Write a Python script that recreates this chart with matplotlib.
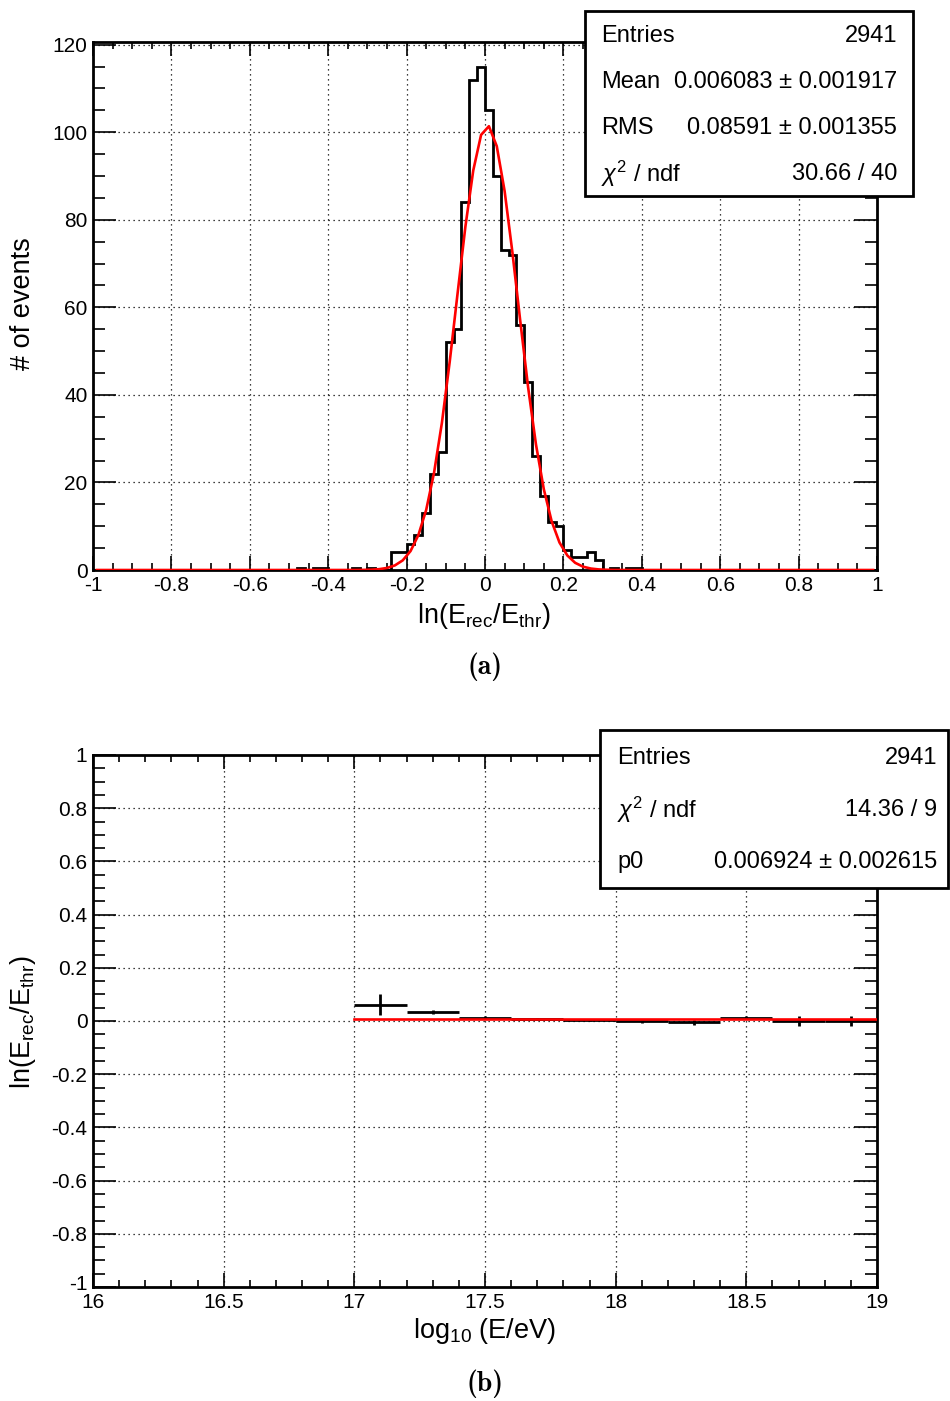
import os
import numpy as np
import matplotlib
matplotlib.use("Agg")
import matplotlib.pyplot as plt
import matplotlib.transforms as mtransforms
from matplotlib.ticker import MultipleLocator, FuncFormatter
from matplotlib.patches import Rectangle
from matplotlib.font_manager import FontProperties

# ---------------- data ----------------
# histogram (a): 100 bins of width 0.02 from -1 to 1
hist_lo, hist_hi, n_bins = -1.0, 1.0, 100
counts = [0] * 26 + [0.5, 0, 0.5, 0.5, 0, 0, 0, 0.5, 0, 0.5, 0, 0,
                     4, 4, 6, 8, 13, 22, 27, 52, 55, 84, 112, 115,
                     105, 90, 73, 72, 56, 43, 26, 17, 11, 10, 4.5, 3,
                     3, 4.2, 2.3, 0, 0.5, 0, 0.5, 0.5] + [0] * 30

# gaussian fit parameters (a)
gaus_const, gaus_mean, gaus_sigma = 101.5, 0.006, 0.078

# profile (b)
prof_centers = [17.1, 17.3, 17.5, 17.7, 17.9, 18.1, 18.3, 18.5, 18.7, 18.9]
prof_means = [0.061, 0.034, 0.013, 0.008, 0.003, -0.001, -0.005, 0.012, 0.001, 0.0]
prof_errs = [0.039, 0.009, 0.004, 0.004, 0.004, 0.005, 0.009, 0.005, 0.018, 0.019]
prof_halfwidth = 0.1
fit_p0 = 0.006924
fit_range = [17.0, 19.0]

stats_a = [("Entries", "2941"),
           ("Mean", "0.006083 \u00b1 0.001917"),
           ("RMS", "0.08591 \u00b1 0.001355"),
           (r"$\chi^{2}$ / ndf", "30.66 / 40")]
stats_b = [("Entries", "2941"),
           (r"$\chi^{2}$ / ndf", "14.36 / 9"),
           ("p0", "0.006924 \u00b1 0.002615")]

# ---------------- style ----------------
plt.rcParams["font.family"] = ["Liberation Sans", "DejaVu Sans"]
plt.rcParams["mathtext.fontset"] = "custom"
plt.rcParams["mathtext.rm"] = "Liberation Sans"
plt.rcParams["mathtext.it"] = "Liberation Sans:italic"
plt.rcParams["mathtext.bf"] = "Liberation Sans:bold"
plt.rcParams["axes.unicode_minus"] = False

W, H = 950, 1401
fig = plt.figure(figsize=(W / 100, H / 100), dpi=100)


def fx(x):
    return x / W


def fy(y):
    return 1 - y / H


ax1 = fig.add_axes([fx(93), fy(570), fx(877) - fx(93), fy(42) - fy(570)])
ax2 = fig.add_axes([fx(93), fy(1287), fx(877) - fx(93), fy(755) - fy(1287)])

fmt = FuncFormatter(lambda v, p: ("%g" % round(v, 6)))

for ax in (ax1, ax2):
    for s in ax.spines.values():
        s.set_linewidth(2.0)
    ax.tick_params(which="both", direction="in", top=True, right=True,
                   labelsize=15, width=1.2, pad=4)
    ax.tick_params(axis="x", which="major", length=10)
    ax.tick_params(axis="x", which="minor", length=5)
    ax.tick_params(axis="y", which="major", length=16.5)
    ax.tick_params(axis="y", which="minor", length=8.5)
    ax.grid(True, which="major", color="black", lw=0.9, ls=(0, (1, 3)))
    ax.xaxis.set_major_formatter(fmt)
    ax.yaxis.set_major_formatter(fmt)

# ---- (a) histogram ----
edges = np.linspace(hist_lo, hist_hi, n_bins + 1)
centers = 0.5 * (edges[:-1] + edges[1:])
ax1.stairs(counts, edges, color="black", lw=2.0, zorder=3)
fit_y = gaus_const * np.exp(-0.5 * ((centers - gaus_mean) / gaus_sigma) ** 2)
ax1.plot(centers, fit_y, color="red", lw=1.9, zorder=4)
ax1.set_xlim(hist_lo, hist_hi)
ax1.set_ylim(0, 120.6)
ax1.xaxis.set_major_locator(MultipleLocator(0.2))
ax1.xaxis.set_minor_locator(MultipleLocator(0.05))
ax1.yaxis.set_major_locator(MultipleLocator(20))
ax1.yaxis.set_minor_locator(MultipleLocator(5))

# ---- (b) profile ----
ax2.errorbar(prof_centers, prof_means, xerr=prof_halfwidth, yerr=prof_errs,
             fmt="none", ecolor="black", elinewidth=2.0, capsize=0, zorder=3)
ax2.plot(fit_range, [fit_p0, fit_p0], color="red", lw=1.9, zorder=4)
ax2.set_xlim(16, 19)
ax2.set_ylim(-1, 1)
ax2.xaxis.set_major_locator(MultipleLocator(0.5))
ax2.xaxis.set_minor_locator(MultipleLocator(0.1))
ax2.yaxis.set_major_locator(MultipleLocator(0.2))
ax2.yaxis.set_minor_locator(MultipleLocator(0.05))

# nudge the lowest y label of (b) up a little so it does not sit on "16"
fig.canvas.draw()
for tick in ax2.yaxis.get_major_ticks():
    if abs(tick.get_loc() + 1.0) < 1e-9:
        lab = tick.label1
        lab.set_transform(lab.get_transform() +
                          mtransforms.ScaledTranslation(0, 3 / 72, fig.dpi_scale_trans))

# ---- axis titles ----
title_fs = 19.5
fig.text(fx(23), fy(304), "# of events", rotation=90, ha="center", va="center",
         fontsize=title_fs)
fig.text(fx(484), fy(623), r"ln(E$_{\mathrm{rec}}$/E$_{\mathrm{thr}}$)",
         ha="center", va="baseline", fontsize=title_fs)
fig.text(fx(23), fy(1022), r"ln(E$_{\mathrm{rec}}$/E$_{\mathrm{thr}}$)",
         rotation=90, ha="center", va="center", fontsize=title_fs)
fig.text(fx(485), fy(1338), r"log$_{\mathrm{10}}$ (E/eV)",
         ha="center", va="baseline", fontsize=title_fs)

# ---- captions ----
cm_bold = FontProperties(fname=os.path.join(matplotlib.get_data_path(),
                                            "fonts", "ttf", "cmb10.ttf"), size=20)
fig.text(fx(485), fy(667), "(a)", ha="center", va="center", fontproperties=cm_bold)
fig.text(fx(485), fy(1384), "(b)", ha="center", va="center", fontproperties=cm_bold)


# ---- stat boxes ----
def stat_box(x0, y0, x1, y1, rows, lx, rx, ys):
    fig.patches.append(Rectangle((fx(x0), fy(y1)), fx(x1) - fx(x0), fy(y0) - fy(y1),
                                 transform=fig.transFigure, facecolor="white",
                                 edgecolor="black", lw=2.0, zorder=5))
    for (lab, val), yy in zip(rows, ys):
        fig.text(fx(lx), fy(yy), lab, ha="left", va="center", fontsize=17, zorder=6)
        fig.text(fx(rx), fy(yy), val, ha="right", va="center", fontsize=17, zorder=6)


stat_box(585, 11, 913, 196, stats_a, 601, 897, [36, 82, 128, 174])
stat_box(600, 730, 948, 888, stats_b, 617, 937, [758, 810, 862])

fig.savefig("out.png", dpi=100)
